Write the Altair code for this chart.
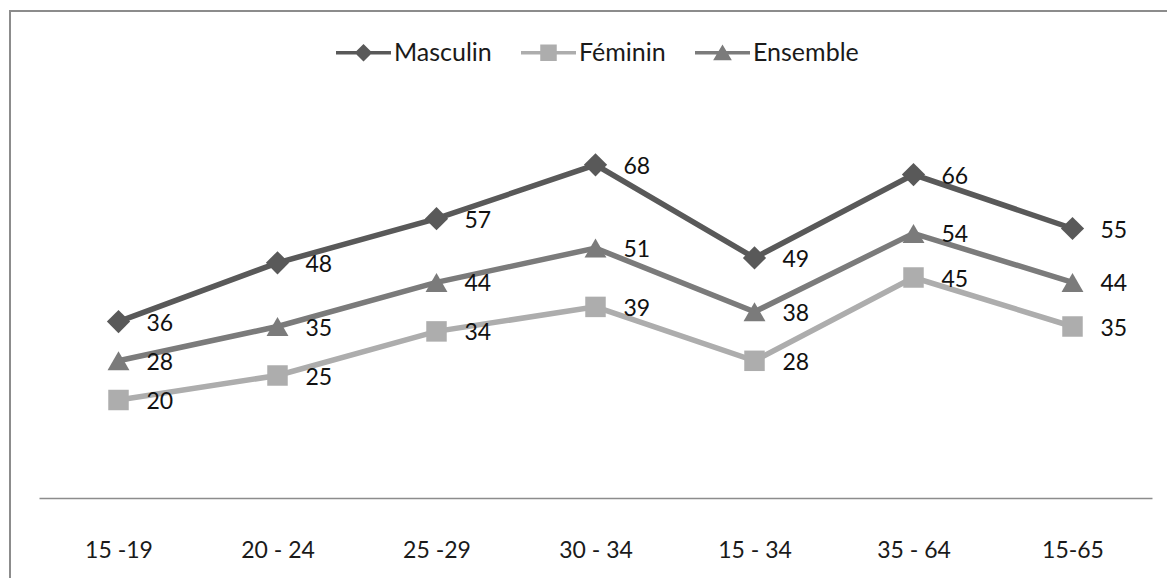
import altair as alt
import pandas as pd

# Age groups on the x axis, in display order
groupes = ["15 -19", "20 - 24", "25 -29", "30 - 34", "15 - 34", "35 - 64", "15-65"]

# Rates per series
masculin = [36, 48, 57, 68, 49, 66, 55]
feminin = [20, 25, 34, 39, 28, 45, 35]
ensemble = [28, 35, 44, 51, 38, 54, 44]

series = ["Masculin", "Féminin", "Ensemble"]
couleurs = ["#595959", "#adadad", "#7b7b7b"]
marqueurs = {"Masculin": ("diamond", 540), "Féminin": ("square", 420), "Ensemble": ("triangle-up", 480)}

# Legend symbols: a short line with the series marker in its middle
symboles_legende = [
    "M-1,-0.065H1V0.065H-1Z M0,-0.32L0.32,0L0,0.32L-0.32,0Z",
    "M-1,-0.065H1V0.065H-1Z M-0.3,-0.3H0.3V0.3H-0.3Z",
    "M-1,-0.065H1V0.065H-1Z M0,-0.3L0.34,0.27H-0.34Z",
]

rows = []
for nom, vals in zip(series, [masculin, feminin, ensemble]):
    for g, v in zip(groupes, vals):
        rows.append({"groupe": g, "serie": nom, "valeur": v})
df = pd.DataFrame(rows)

FONT = "Lato"
W, H = 1113, 392

x = alt.X(
    "groupe:O",
    sort=groupes,
    scale=alt.Scale(type="point", padding=0.5),
    axis=alt.Axis(
        title=None, labelAngle=0, ticks=False, tickSize=0, grid=False,
        domainColor="#8c8c8c", domainWidth=1.5,
        labelFont=FONT, labelFontSize=23, labelColor="#1a1a1a",
        labelPadding=52, labelBaseline="middle",
    ),
)
y = alt.Y("valeur:Q", scale=alt.Scale(domain=[0, 80]), axis=None)
color_scale = alt.Scale(domain=series, range=couleurs)
couleur = alt.Color("serie:N", scale=color_scale)

base = alt.Chart(df)

lines = base.mark_line(strokeWidth=5.5).encode(x=x, y=y, color=couleur, detail="serie:N")

points = []
for nom in series:
    shape, size = marqueurs[nom]
    points.append(
        base.transform_filter(alt.datum.serie == nom)
        .mark_point(shape=shape, size=size, filled=True, opacity=1)
        .encode(x=x, y=y, color=couleur)
    )

labels = base.mark_text(
    align="left", baseline="middle", dx=28, dy=2, font=FONT, fontSize=23, color="#111111"
).encode(x=x, y=y, text="valeur:Q")

legende = alt.Legend(
    title=None, orient="none", direction="horizontal",
    legendX=297, legendY=-81,
    symbolSize=3025, symbolStrokeWidth=0, symbolOpacity=1,
    labelFont=FONT, labelFontSize=25, labelColor="#1a1a1a",
    labelOffset=3, columnPadding=29,
)
# Invisible points that only carry the combined colour/shape legend
legend_layer = base.mark_point(filled=True, size=0, opacity=1).encode(
    x=x, y=y,
    color=alt.Color("serie:N", scale=color_scale, legend=legende),
    shape=alt.Shape("serie:N", scale=alt.Scale(domain=series, range=symboles_legende), legend=legende),
)

cadre = alt.Chart(alt.Data(values=[{}])).mark_rect(
    fill="transparent", stroke="#8c8c8c", strokeWidth=2
).encode(
    x=alt.value(-29), x2=alt.value(W + 40), y=alt.value(-95), y2=alt.value(H + 120)
)

chart = (
    alt.layer(legend_layer, cadre, lines, *points, labels)
    .properties(
        width=W, height=H,
        autosize=alt.AutoSizeParams(type="none"),
        padding={"left": 39, "top": 106, "right": 15, "bottom": 80},
        background="white",
    )
    .configure_view(strokeWidth=0)
)

chart.save("out.html", embed_options={"renderer": "svg", "actions": False})
